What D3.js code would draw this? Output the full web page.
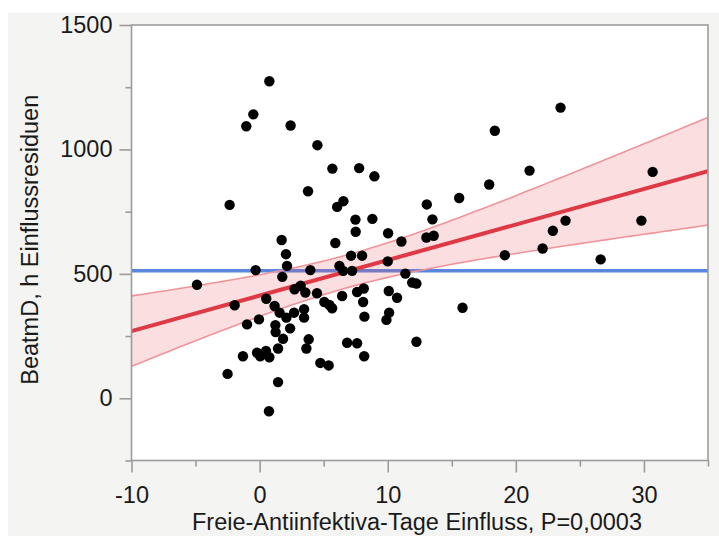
<!DOCTYPE html>
<html>
<head>
<meta charset="utf-8">
<script src="https://cdn.jsdelivr.net/npm/d3@7"></script>
<style>
  html, body { margin: 0; padding: 0; background: #ffffff; }
  svg { display: block; font-family: "Liberation Sans", Arial, Helvetica, sans-serif; }
</style>
</head>
<body>
<svg id="chart" width="719" height="536"></svg>
<script>
// Leverage residuals: x = Freie-Antiinfektiva-Tage leverage, y = BeatmD leverage residuals
const leverageX = [
  0.76, -0.49, -1.04, 2.42, 4.51, 5.68, 7.77, 8.96, 3.78, -2.34,
  6.54, 6.05, 7.48, 8.80, 7.50, 10.03, 11.07, 1.72, 5.91, 2.06,
  7.14, 8.00, 2.14, -0.31, 3.96, 6.23, 6.52, 7.22, 10.00, 11.38,
  11.91, 12.24, 1.77, -4.89, 2.73, 3.20, 3.57, 4.48, 7.61, 8.13,
  10.08, 10.73, 6.44, 8.08, 5.05, 5.45, 5.66, 0.52, -1.95, 1.17,
  1.56, 2.09, 2.69, 3.47, 3.47, 8.18, 10.11, 9.90, -0.05, -0.98,
  1.23, 2.38, 1.25, 1.83, 3.83, 3.65, 6.83, 7.61, 12.24, 1.44,
  -0.20, 0.50, 0.05, 0.76, -1.30, 8.16, 4.74, 5.39, -2.50, 1.44,
  0.73, 23.49, 18.36, 21.07, 30.68, 17.92, 15.58, 13.05, 13.49, 13.02,
  13.59, 23.88, 22.89, 29.80, 22.09, 19.14, 26.62, 15.84
];
const leverageY = [
  1274, 1141, 1093, 1096, 1017, 923, 925, 892, 832, 777,
  792, 769, 718, 721, 669, 663, 630, 636, 624, 579,
  573, 573, 532, 515, 515, 532, 512, 512, 550, 501,
  465, 461, 488, 456, 438, 452, 425, 422, 427, 441,
  431, 404, 411, 387, 387, 375, 362, 400, 374, 371,
  344, 324, 344, 358, 324, 328, 344, 315, 317, 297,
  294, 281, 266, 239, 237, 200, 223, 221, 227, 200,
  183, 190, 169, 165, 169, 169, 142, 132, 98, 65,
  -52, 1168, 1075, 915, 910, 859, 805, 779, 719, 646,
  653, 714, 673, 714, 602, 575, 558, 364
];

// Fit summary
const responseMean = 512;
const fitIntercept = 412.7;
const fitSlope = 14.27;
const leverageMeanX = 7;
const bandSeAtMean = 65.9;
const bandSeSlope = 7.365;

// Axes
const xDomain = [-10, 35];
const yDomain = [-250, 1500];
const xMajorTicks = [-10, 0, 10, 20, 30];
const xMinorTicks = [-5, 5, 15, 25, 35];
const yMajorTicks = [0, 500, 1000, 1500];
const yMinorTicks = [-250, 250, 750, 1250];
const xTitle = "Freie-Antiinfektiva-Tage Einfluss, P=0,0003";
const yTitle = "BeatmD, h Einflussresiduen";

const svg = d3.select("#chart");
const W = 719, H = 536;
const plot = { left: 131.5, right: 708, top: 25, bottom: 460.5 };

svg.append("rect").attr("x", 8).attr("y", 13).attr("width", W - 8).attr("height", H - 13)
  .attr("fill", "#f4f4f2");
svg.append("rect").attr("x", plot.left).attr("y", plot.top)
  .attr("width", plot.right - plot.left).attr("height", plot.bottom - plot.top)
  .attr("fill", "#ffffff");

const x = d3.scaleLinear().domain(xDomain).range([plot.left, plot.right]);
const y = d3.scaleLinear().domain(yDomain).range([plot.bottom, plot.top]);

svg.append("defs").append("clipPath").attr("id", "plotClip")
  .append("rect").attr("x", plot.left).attr("y", plot.top)
  .attr("width", plot.right - plot.left).attr("height", plot.bottom - plot.top);

const g = svg.append("g").attr("clip-path", "url(#plotClip)");

// Mean of response
g.append("line")
  .attr("x1", x(xDomain[0])).attr("x2", x(xDomain[1]))
  .attr("y1", y(responseMean)).attr("y2", y(responseMean))
  .attr("stroke", "#5b86de").attr("stroke-width", 3.5);

// Confidence band of the fit
const fitAt = v => fitIntercept + fitSlope * v;
const halfWidth = v => Math.sqrt(bandSeAtMean * bandSeAtMean + Math.pow(bandSeSlope * (v - leverageMeanX), 2));
const bandXs = d3.range(xDomain[0], xDomain[1] + 0.001, 0.5);

g.append("path").datum(bandXs)
  .attr("d", d3.area().x(v => x(v)).y0(v => y(fitAt(v) - halfWidth(v))).y1(v => y(fitAt(v) + halfWidth(v))))
  .attr("fill", "rgba(232, 80, 92, 0.19)");
[-1, 1].forEach(s => {
  g.append("path").datum(bandXs)
    .attr("d", d3.line().x(v => x(v)).y(v => y(fitAt(v) + s * halfWidth(v))))
    .attr("fill", "none").attr("stroke", "#f0949b").attr("stroke-width", 1.6);
});

// Fitted line
g.append("line")
  .attr("x1", x(xDomain[0])).attr("x2", x(xDomain[1]))
  .attr("y1", y(fitAt(xDomain[0]))).attr("y2", y(fitAt(xDomain[1])))
  .attr("stroke", "#de3a45").attr("stroke-width", 4);

// Points
g.selectAll("circle.pt").data(d3.range(leverageX.length)).join("circle")
  .attr("class", "pt")
  .attr("cx", i => x(leverageX[i])).attr("cy", i => y(leverageY[i]))
  .attr("r", 5.2).attr("fill", "#000000");

// Frame
const axisColor = "#9c9c9c";
svg.append("rect").attr("x", plot.left).attr("y", plot.top)
  .attr("width", plot.right - plot.left).attr("height", plot.bottom - plot.top)
  .attr("fill", "none").attr("stroke", axisColor).attr("stroke-width", 1.6);

// Plain integer labels with an ASCII hyphen for negatives
const plainFormat = d => String(d);

// X axis
const xAxisMajor = d3.axisBottom(x).tickValues(xMajorTicks).tickFormat(plainFormat).tickSize(12).tickPadding(8).tickSizeOuter(0);
const xAxisMinor = d3.axisBottom(x).tickValues(xMinorTicks).tickSize(6).tickFormat("").tickSizeOuter(0);
const gxMinor = svg.append("g").attr("transform", `translate(0,${plot.bottom})`).call(xAxisMinor);
const gx = svg.append("g").attr("transform", `translate(0,${plot.bottom})`).call(xAxisMajor);

// Y axis
const yAxisMajor = d3.axisLeft(y).tickValues(yMajorTicks).tickFormat(plainFormat).tickSize(12).tickPadding(7).tickSizeOuter(0);
const yAxisMinor = d3.axisLeft(y).tickValues(yMinorTicks).tickSize(6).tickFormat("").tickSizeOuter(0);
const gyMinor = svg.append("g").attr("transform", `translate(${plot.left},0)`).call(yAxisMinor);
const gy = svg.append("g").attr("transform", `translate(${plot.left},0)`).call(yAxisMajor);

[gx, gxMinor, gy, gyMinor].forEach(a => {
  a.select(".domain").remove();
  a.selectAll(".tick line").attr("stroke", axisColor).attr("stroke-width", 1.6);
  a.selectAll(".tick text").attr("fill", "#1a1a1a")
    .style("font-size", "23.5px").style("font-family", "\"Liberation Sans\", Arial, sans-serif");
});
gx.selectAll(".tick text").attr("dy", "0.95em");

// Axis titles
svg.append("text").attr("x", 417).attr("y", 530)
  .attr("text-anchor", "middle").attr("fill", "#1a1a1a")
  .style("font-size", "23.5px").text(xTitle);
svg.append("text").attr("transform", `translate(38,${(plot.top + plot.bottom) / 2 - 3}) rotate(-90)`)
  .attr("text-anchor", "middle").attr("fill", "#1a1a1a")
  .style("font-size", "23.5px").text(yTitle);
</script>
</body>
</html>
